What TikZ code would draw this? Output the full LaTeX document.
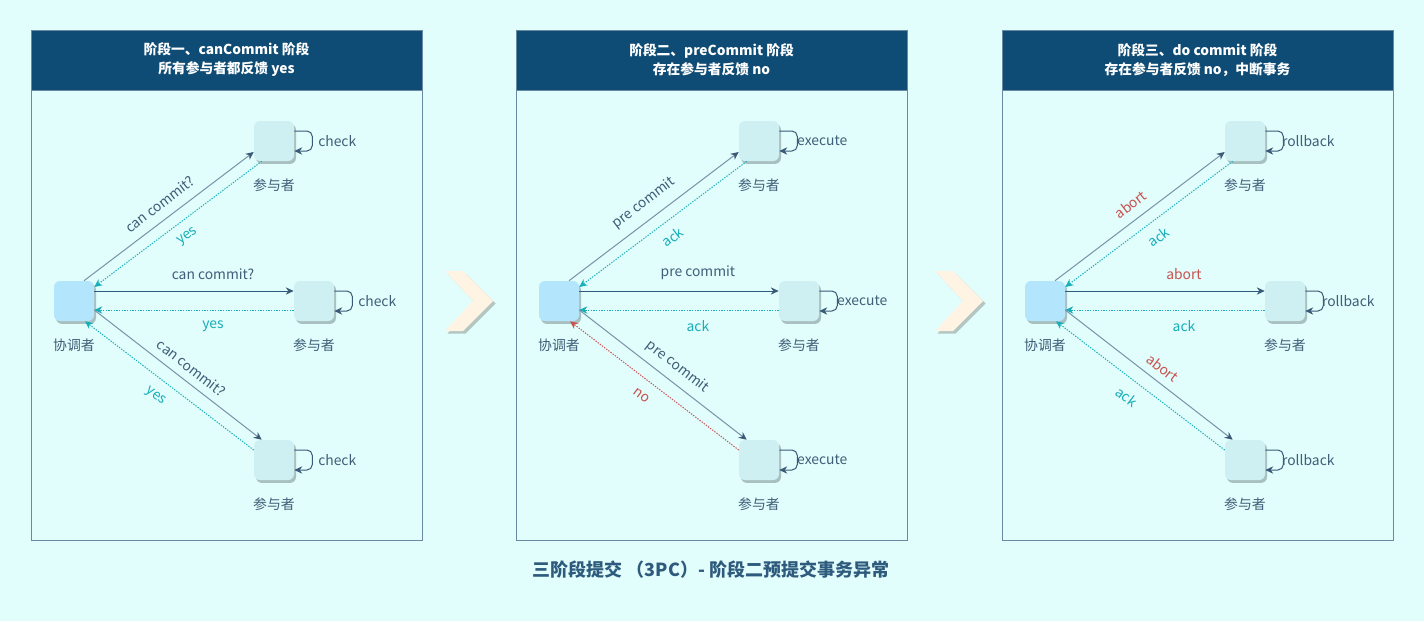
\documentclass[tikz,border=0pt]{standalone}
\usepackage{fontspec}
\setmainfont{Noto Sans CJK SC}
\usetikzlibrary{calc,arrows.meta,shadows}

\definecolor{bgc}{HTML}{E1FDFC}
\definecolor{headc}{HTML}{0F4C75}
\definecolor{framec}{HTML}{6A8AA3}
\definecolor{coordc}{HTML}{B3E5FC}
\definecolor{partc}{HTML}{CEF0F2}
\definecolor{shadc}{HTML}{A9C0C0}
\definecolor{linec}{HTML}{7892A9}
\definecolor{darkc}{HTML}{2E5B7D}
\definecolor{tipc}{HTML}{3A5B78}
\definecolor{txtc}{HTML}{3F5E78}
\definecolor{cyanc}{HTML}{17AEB8}
\definecolor{redc}{HTML}{C8524E}
\definecolor{chevc}{HTML}{FFF3E3}
\definecolor{chevs}{HTML}{B3C6C2}

\tikzset{
  box/.style={rectangle, rounded corners=4.5pt, minimum size=30pt, inner sep=0pt,
    general shadow={fill=shadc, shadow xshift=1.5pt, shadow yshift=-2.2pt}},
  coord/.style={box, fill=coordc},
  part/.style={box, fill=partc},
  lbl/.style={font=\fontsize{10.4}{12}\selectfont, text=txtc},
  head/.style={fill=headc, draw=framec, minimum width=293.25pt, minimum height=45pt,
    align=center, text=white, font=\bfseries\fontsize{10.3}{14.25}\selectfont},
  diag/.style={draw=linec, line width=0.75pt, -{Stealth[length=6pt,width=5.5pt,color=tipc]}},
  horiz/.style={draw=darkc, line width=0.75pt, -{Stealth[length=6pt,width=5.5pt,color=tipc]}},
  reply/.style={draw=cyanc, line width=0.75pt, dash pattern=on 1pt off 1pt,
    -{Stealth[length=6pt,width=5.5pt]}},
  loopline/.style={draw=tipc, line width=0.75pt, rounded corners=4pt,
    -{Stealth[length=6pt,width=5.5pt]}},
  title/.style={font=\bfseries\fontsize{13.5}{16}\selectfont, text=darkc}
}

\begin{document}
\begin{tikzpicture}[x=0.75pt, y=-0.75pt]
  \fill[bgc] (0,0) rectangle (1424,621);
  \useasboundingbox (0,0) rectangle (1424,621);

  % three phases, shifted copies
  \foreach \dx/\hdA/\hdB/\send/\sendc/\rply/\loopt/\lastr/\lastc [count=\i] in {
      0/{阶段一、canCommit 阶段}/{所有参与者都反馈 yes}/{can commit?}/txtc/yes/check/yes/cyanc,
      485/{阶段二、preCommit 阶段}/{存在参与者反馈 no}/{pre commit}/txtc/ack/execute/no/redc,
      971/{阶段三、do commit 阶段}/{存在参与者反馈 no，中断事务}/abort/redc/ack/rollback/ack/cyanc} {
    \begin{scope}[shift={(\dx,0)}]
      \draw[framec, fill=bgc, line width=0.75pt] (31,30) rectangle (422,540);
      \node[head] (h\i) at (226.5,60) {\hdA\\\hdB};

      \node[coord, label={[lbl, label distance=9.5pt]below:协调者}] (c\i) at (74,301) {};
      \node[part, label={[lbl, label distance=9.5pt]below:参与者}] (a\i) at (274,141) {};
      \node[part, label={[lbl, label distance=9.5pt]below:参与者}] (b\i) at (314,301) {};
      \node[part, label={[lbl, label distance=9.5pt]below:参与者}] (d\i) at (274,460) {};

      % self loops
      \foreach \p in {a,b,d} {
        \draw[loopline] ($(\p\i.east)+(0,-10)$) -- ++(18,0) -- ++(0,20) -- ++(-18,0);
        \node[lbl] (l\p\i) at ($(\p\i.east)+(43,0)$) {\loopt};
      }

      \draw[diag] ($(c\i.north)+(10,0)$) -- ($(a\i.west)+(0,11)$)
        node[midway, sloped, above=3.5pt, lbl, text=\sendc] {\send};
      \draw[reply] ($(a\i.south west)+(8,0)$) -- ($(c\i.east)+(0,-14)$)
        node[midway, sloped, below=4pt, lbl, text=cyanc] {\rply};
      \draw[horiz] ($(c\i.east)+(0,-10)$) -- ($(b\i.west)+(0,-10)$)
        node[pos=0.595, above=5pt, lbl, text=\sendc] {\send};
      \draw[reply] ($(b\i.west)+(0,9)$) -- ($(c\i.east)+(0,9)$)
        node[pos=0.405, below=4pt, lbl, text=cyanc] {\rply};
      \draw[diag] ($(c\i.east)+(0,9)$) -- ($(d\i.north west)+(8,0)$)
        node[pos=0.53, sloped, above=2.5pt, lbl, text=\sendc] {\send};
      \draw[reply, draw=\lastc] ($(d\i.west)+(0,-10)$) -- ($(c\i.south)+(11,0)$)
        node[pos=0.52, sloped, below=5pt, lbl, text=\lastc] {\lastr};
    \end{scope}
  }

  % arrows between phases
  \foreach \cx in {445,935} {
    \fill[chevs] (\cx+2.5,273.5) -- ++(18,0) -- ++(30,30) -- ++(-30,30) -- ++(-18,0) -- ++(28,-30) -- cycle;
    \fill[chevc] (\cx,271) -- ++(18,0) -- ++(30,30) -- ++(-30,30) -- ++(-18,0) -- ++(28,-30) -- cycle;
  }

  \node[title] (t) at (711,570) {三阶段提交 （3PC）- 阶段二预提交事务异常};
\end{tikzpicture}
\end{document}
